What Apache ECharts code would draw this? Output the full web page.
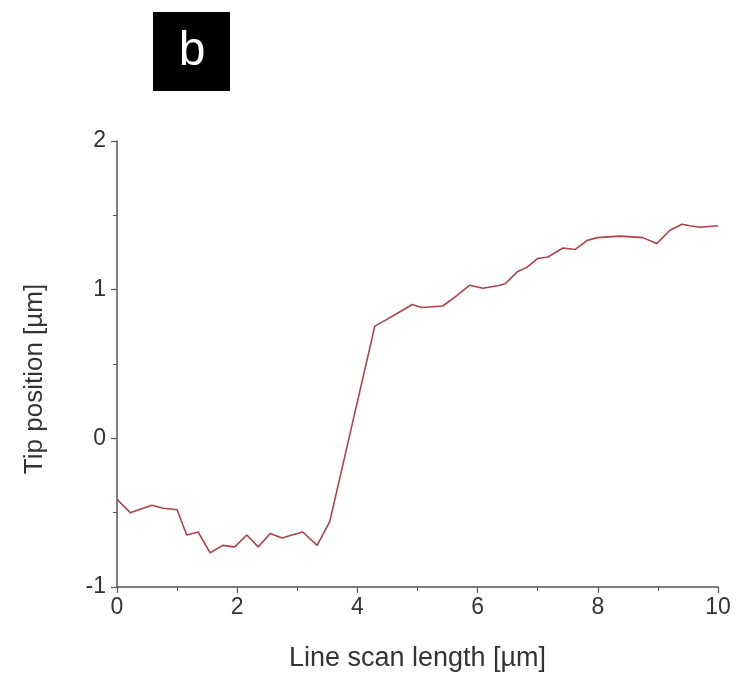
<!DOCTYPE html>
<html>
<head>
<meta charset="utf-8">
<script src="https://cdn.jsdelivr.net/npm/echarts@6/dist/echarts.min.js"></script>
<style>html,body{margin:0;padding:0;background:#fff}#c{width:736px;height:679px}</style>
</head>
<body>
<div id="c"></div>
<script>
var scanX = [0, 0.22, 0.58, 0.77, 1.0, 1.16, 1.35, 1.55, 1.76, 1.96, 2.16, 2.35, 2.55, 2.75, 2.91, 3.09, 3.33, 3.54, 4.29, 4.49, 4.66, 4.91, 5.07, 5.42, 5.59, 5.87, 6.09, 6.37, 6.46, 6.66, 6.82, 7.0, 7.17, 7.42, 7.62, 7.82, 7.99, 8.37, 8.75, 8.98, 9.2, 9.4, 9.53, 9.7, 10];
var tipY = [-0.41, -0.50, -0.45, -0.47, -0.48, -0.65, -0.63, -0.77, -0.72, -0.73, -0.65, -0.73, -0.64, -0.67, -0.65, -0.63, -0.72, -0.56, 0.755, 0.80, 0.84, 0.90, 0.88, 0.89, 0.94, 1.03, 1.01, 1.03, 1.04, 1.12, 1.15, 1.21, 1.22, 1.28, 1.27, 1.33, 1.35, 1.36, 1.35, 1.31, 1.40, 1.44, 1.43, 1.42, 1.43];
var panelLabel = 'b';
var xTitle = 'Line scan length [\u00b5m]';
var yTitle = 'Tip position [\u00b5m]';

var pts = scanX.map(function (x, i) { return [x, tipY[i]]; });
var font = 'Liberation Sans, Arial, sans-serif';
var chart = echarts.init(document.getElementById('c'), null, {renderer: 'canvas'});
chart.setOption({
  animation: false,
  backgroundColor: '#fff',
  grid: {left: 117, right: 18, top: 141, bottom: 92, containLabel: false},
  graphic: [
    {type: 'rect', left: 153, top: 12, shape: {width: 77, height: 79}, style: {fill: '#000'}},
    {type: 'text', x: 192, y: 52, style: {text: panelLabel, fill: '#fff', font: '48px ' + font, textAlign: 'center', textVerticalAlign: 'middle'}},
    {type: 'text', x: 35, y: 379, rotation: Math.PI / 2, style: {text: yTitle, fill: '#333', font: '26px ' + font, textAlign: 'center', textVerticalAlign: 'middle'}}
  ],
  xAxis: {
    type: 'value', min: 0, max: 10, interval: 2,
    name: xTitle, nameLocation: 'middle', nameGap: 58,
    nameTextStyle: {fontSize: 27, color: '#333', fontFamily: font},
    axisLine: {show: true, onZero: false, lineStyle: {color: '#555', width: 1.5}},
    axisTick: {show: true, inside: false, length: 6, lineStyle: {color: '#555', width: 1.2}},
    minorTick: {show: true, splitNumber: 2, length: 4, lineStyle: {color: '#555'}},
    axisLabel: {fontSize: 23, color: '#333', fontFamily: font, margin: 9},
    splitLine: {show: false}
  },
  yAxis: {
    type: 'value', min: -1, max: 2, interval: 1,
    axisLine: {show: true, onZero: false, lineStyle: {color: '#555', width: 1.5}},
    axisTick: {show: true, inside: false, length: 6, lineStyle: {color: '#555', width: 1.2}},
    minorTick: {show: true, splitNumber: 2, length: 4, lineStyle: {color: '#555'}},
    axisLabel: {fontSize: 23, color: '#333', fontFamily: font, margin: 11},
    splitLine: {show: false}
  },
  series: [{
    type: 'line', data: pts, showSymbol: false, symbol: 'none',
    lineStyle: {color: '#b0404a', width: 1.6}
  }]
});
</script>
</body>
</html>
